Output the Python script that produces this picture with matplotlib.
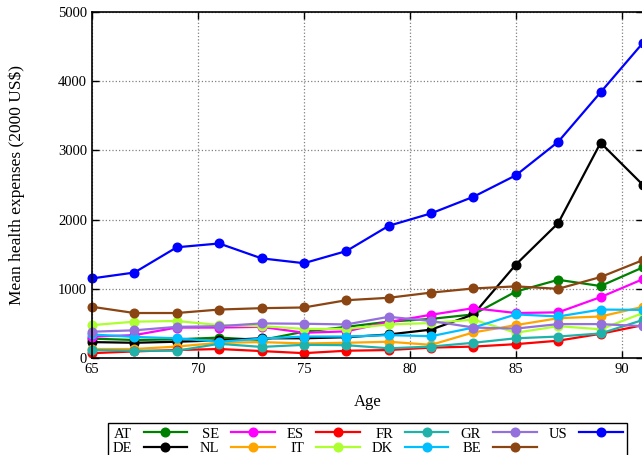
import matplotlib
matplotlib.use("Agg")
import matplotlib.pyplot as plt

ages = [65, 67, 69, 71, 73, 75, 77, 79, 81, 83, 85, 87, 89, 91]

# mean health expenses by country (2000 US$)
countries = ["AT", "DE", "SE", "NL", "ES", "IT", "FR", "DK", "GR", "BE", "US"]
AT = [280, 260, 270, 295, 260, 380, 450, 525, 565, 630, 960, 1130, 1040, 1310]
DE = [230, 220, 235, 255, 285, 285, 300, 340, 410, 630, 1350, 1950, 3110, 2500]
SE = [310, 330, 440, 440, 450, 365, 385, 520, 625, 720, 650, 660, 880, 1140]
NL = [130, 130, 165, 220, 230, 210, 220, 235, 190, 370, 475, 575, 600, 740]
ES = [70, 95, 115, 130, 100, 70, 105, 115, 150, 165, 200, 250, 350, 475]
IT = [475, 525, 535, 475, 460, 420, 420, 485, 505, 555, 365, 460, 415, 650]
FR = [115, 105, 105, 205, 160, 190, 185, 140, 165, 220, 285, 310, 355, 550]
DK = [340, 305, 285, 235, 280, 310, 310, 330, 315, 440, 630, 600, 700, 695]
GR = [380, 400, 450, 460, 500, 495, 485, 595, 535, 440, 425, 490, 490, 460]
BE = [740, 650, 650, 700, 720, 730, 835, 870, 945, 1005, 1035, 1000, 1170, 1415]
US = [1150, 1235, 1600, 1655, 1440, 1370, 1545, 1910, 2090, 2330, 2640, 3125, 3840, 4555]

series = [AT, DE, SE, NL, ES, IT, FR, DK, GR, BE, US]
colors = ["#008000", "black", "magenta", "orange", "red", "greenyellow",
          "lightseagreen", "deepskyblue", "mediumpurple", "saddlebrown", "blue"]

plt.rcParams["font.family"] = ["Liberation Serif", "DejaVu Serif"]
plt.rcParams["font.size"] = 10.5

fig = plt.figure(figsize=(6.42, 4.55), dpi=100)
W, H = 642, 455
# right border sits just past the image edge, as in the cropped reference
ax = fig.add_axes([92 / W, (H - 358) / H, 551 / W, 346 / H])

for name, vals, c in zip(countries, series, colors):
    ax.plot(ages, vals, color=c, lw=1.6, marker="o", ms=6.2, label=name,
            clip_on=False)

ax.set_xlim(65, 91)
ax.set_ylim(0, 5000)
ax.set_xticks(range(65, 91, 5))
ax.set_yticks(range(0, 5001, 1000))
ax.grid(True, color="gray", linestyle=":", linewidth=0.9)
ax.tick_params(direction="in", top=True, right=True, length=5, width=1)
for s in ax.spines.values():
    s.set_linewidth(1.2)
ax.set_xlabel("Age", labelpad=13, fontsize=12)
ax.set_ylabel("Mean health expenses (2000 US\\$)", labelpad=24, fontsize=12.5)

handles, labels = ax.get_legend_handles_labels()
leg = fig.legend(handles, labels, ncol=6, markerfirst=False,
                 loc="upper left", bbox_to_anchor=(108 / W, 1 - 423 / H),
                 borderaxespad=0, frameon=True, fancybox=False,
                 edgecolor="black", framealpha=1, handlelength=3.0,
                 handletextpad=0.8, columnspacing=0.85, labelspacing=0.1,
                 borderpad=0.3, fontsize=10.5)
leg.get_frame().set_linewidth(1.0)

fig.savefig("out.png", dpi=100)
